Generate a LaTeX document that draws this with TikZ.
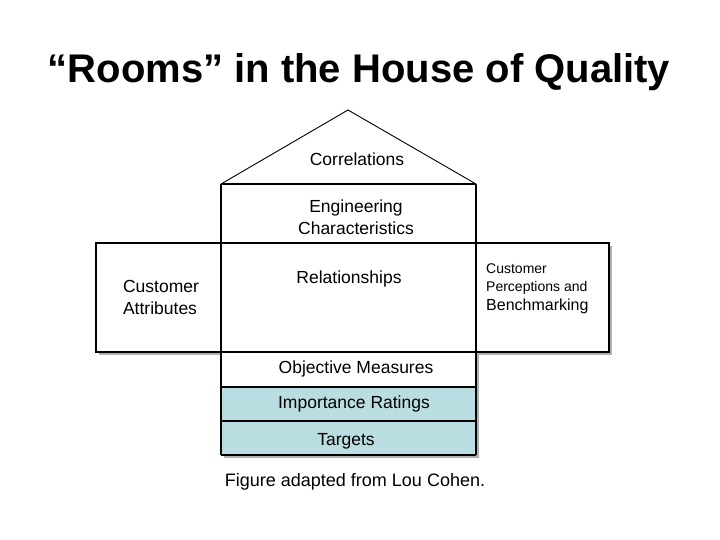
\documentclass[tikz,border=0pt]{standalone}
\usepackage{fontspec}
\setmainfont{Liberation Sans}
\definecolor{band}{HTML}{B9DDE0}
\definecolor{shadow}{HTML}{B0B0B0}
\begin{document}
\begin{tikzpicture}[x=1pt,y=-1pt,
  lbl/.style={inner sep=0pt,font=\fontsize{17.5}{22}\selectfont,align=center},
  room/.style={draw=black,line width=1.1pt},
  roofline/.style={draw=black,line width=0.9pt}]
\useasboundingbox (0,0) rectangle (720,540);
% title
\node[inner sep=0pt,font=\fontsize{40}{44}\selectfont\bfseries] (title) at (359,72) {“Rooms” in the House of Quality};
% roof
\coordinate (apex) at (348,110);
\coordinate (rl) at (221,184);
\coordinate (rr) at (476,184);
\draw[roofline] (rl) -- (apex) -- (rr);
% shadows
\fill[shadow] (99,246) rectangle (612,355);
\fill[shadow] (224,352) rectangle (479,458);
% middle band
\draw[room,fill=white] (96,243) rectangle (609,352);
% central column
\fill[white] (221,184) rectangle (476,387);
\fill[band] (221,387) rectangle (476,455);
\draw[room] (221,184) -- (476,184);
\draw[room] (221,184) -- (221,455);
\draw[room] (476,184) -- (476,455);
\draw[room] (96,243) -- (609,243);
\draw[room] (96,352) -- (609,352);
\draw[room] (221,387) -- (476,387);
\draw[room] (221,421) -- (476,421);
\draw[room] (221,455) -- (476,455);
% labels
\node[lbl] (corr) at (357,159) {Correlations};
\node[lbl] (eng) at (356,217) {Engineering\\Characteristics};
\node[lbl,align=left] (ca) at (161,297) {Customer\\Attributes};
\node[lbl] (rel) at (349,279) {Relationships};
\node[inner sep=0pt,align=left,anchor=west,font=\fontsize{14}{18}\selectfont] (cp) at (486,279) {Customer\\Perceptions and};
\node[inner sep=0pt,anchor=west,font=\fontsize{16}{18}\selectfont] (bm) at (486,306) {Benchmarking};
\node[lbl] (om) at (356,369) {Objective Measures};
\node[lbl] (ir) at (354,404) {Importance Ratings};
\node[lbl] (tg) at (346,441) {Targets};
\node[lbl,font=\fontsize{18}{20}\selectfont] (fig) at (355,482) {Figure adapted from Lou Cohen.};
\end{tikzpicture}
\end{document}
